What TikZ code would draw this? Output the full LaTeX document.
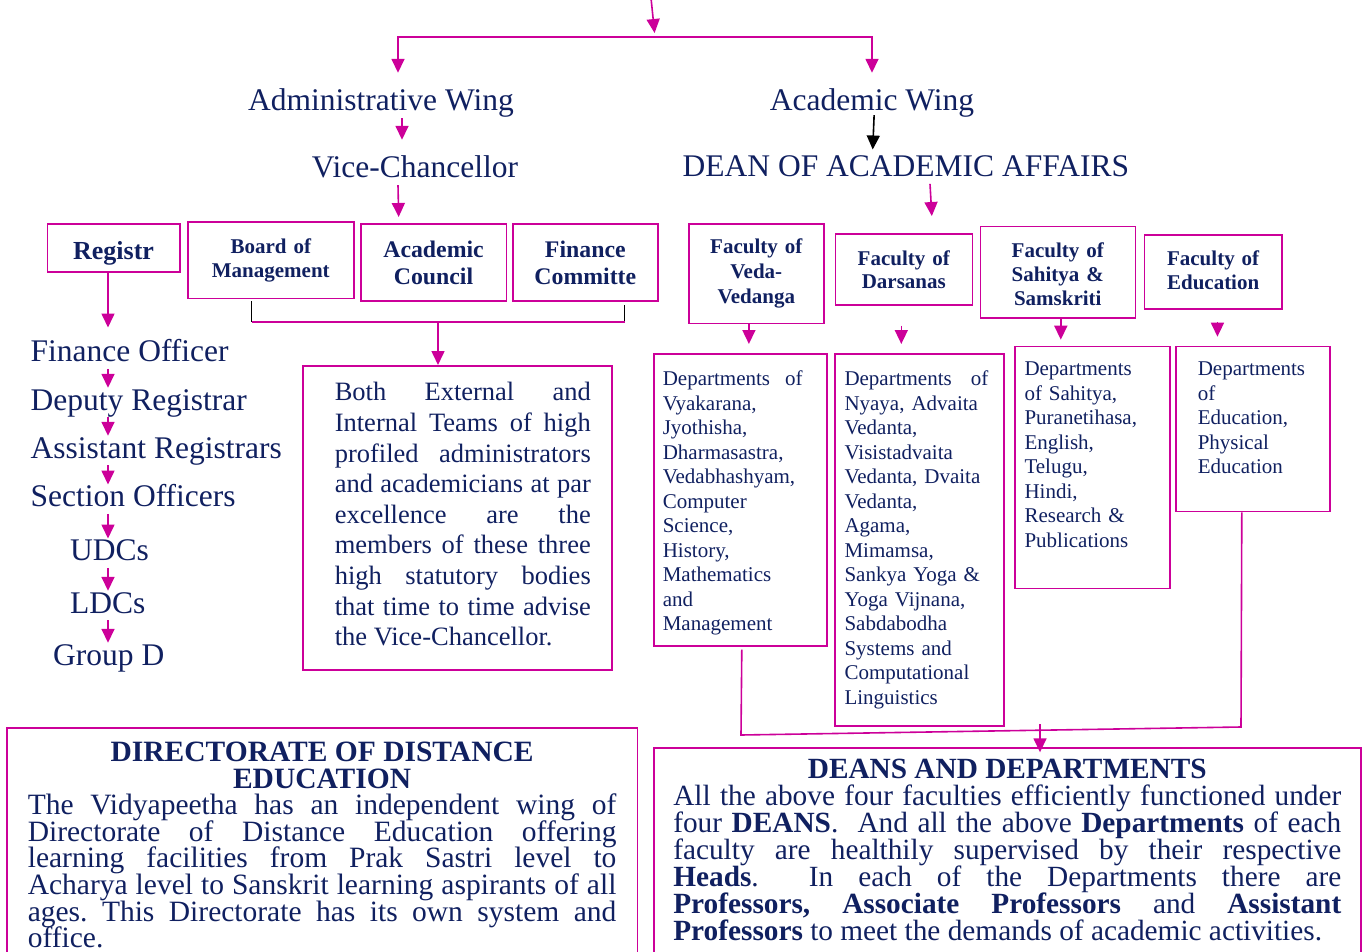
\documentclass[tikz,border=0pt]{standalone}
\usepackage{fontspec}
\setmainfont{Liberation Serif}
\usepackage{xcolor}
\usepackage{tikz}
\usetikzlibrary{arrows.meta}
\usetikzlibrary{calc}
\definecolor{inkblue}{RGB}{16,32,96}
\definecolor{wingpink}{RGB}{204,0,153}
\setlength{\normallineskiplimit}{-100pt}
\tikzset{
    link/.style={wingpink, line width=1.6pt, -{Triangle[length=14pt,width=13pt]}},
    wire/.style={wingpink, line width=1.6pt},
    tick/.style={black, line width=1.2pt},
    rank/.style={text=inkblue, inner sep=0pt, text height=22pt, text depth=7pt, font=\fontsize{31.5}{36}\selectfont},
    unit/.style={draw=wingpink, line width=1.6pt, text=inkblue, inner sep=0pt, align=center, anchor=north west},
    dept/.style={draw=wingpink, line width=1.6pt, text=inkblue, inner ysep=0pt, inner xsep=9pt, align=left, anchor=north west, font=\fontsize{21}{24.5}\selectfont},
    note/.style={draw=wingpink, line width=1.6pt, text=inkblue, inner ysep=0pt, align=justify, anchor=north west}
}

\begin{document}
\frenchspacing
\lineskiplimit=-100pt
\tolerance=10000
\hbadness=10000
\begin{tikzpicture}[x=1pt, y=-1pt]

            \useasboundingbox (0,0) rectangle (1365,952);

            % wings
            \node[rank, anchor=base] (adm) at (381,111) {Administrative Wing};
            \node[rank, anchor=base] (acw) at (872,111) {Academic Wing};
            \node[rank, anchor=base] (vc) at (415,178) {Vice-Chancellor};
            \node[rank, anchor=base] (dean) at (906,176.7) {DEAN OF ACADEMIC AFFAIRS};

            \coordinate (top) at (651,-2);
            \coordinate (split) at (655,37);
            \draw[link, shorten >=4pt] (top) -- (split);
            \draw[link, shorten >=16pt] (split) -| ([xshift=17pt]adm.north);
            \draw[link, shorten >=16pt] (split) -| (acw.north);
            \draw[link, shorten >=16pt] ([xshift=21pt]adm.south) -- ([xshift=-13pt]vc.north);
            \draw[link, black, shorten <=-3pt, shorten >=5pt] ([xshift=2pt]acw.south) -- ([xshift=-33.5pt]dean.north);

            % administrative side
            \node[unit, text width=132.5pt, text height=35.3pt, text depth=12.7pt, font=\bfseries\fontsize{26}{30}\selectfont] (reg) at (46.5,223) {Registr};
            \node[unit, text width=166pt, text height=31.7pt, text depth=45pt, font=\bfseries\fontsize{21}{24}\selectfont] (bom) at (187,221) {Board of\\Management};
            \node[unit, text width=145.5pt, text height=33.7pt, text depth=43.3pt, font=\bfseries\fontsize{23.8}{27.3}\selectfont] (ac) at (360,223) {Academic\\Council};
            \node[unit, text width=145pt, text height=33.7pt, text depth=43.3pt, font=\bfseries\fontsize{23.8}{27.3}\selectfont] (fc) at (512,223) {Finance\\Committe};

            \draw[link, shorten >=6pt] ([xshift=-17pt]vc.south) -- ([xshift=-34.75pt]ac.north);

            \node[rank, anchor=base west] (fo) at (30.5,361.7) {Finance Officer};
            \node[rank, anchor=base west] (dr) at (30.5,410) {Deputy Registrar};
            \node[rank, anchor=base west] (ar) at (30.5,458) {Assistant Registrars};
            \node[rank, anchor=base west] (so) at (30.5,506.7) {Section Officers};
            \node[rank, anchor=base west] (udc) at (70,560.7) {UDCs};
            \node[rank, anchor=base west] (ldc) at (70,613) {LDCs};
            \node[rank, anchor=base west] (grp) at (53,665) {Group D};

            \coordinate (col) at (108,0);
            \draw[link, shorten >=12pt] (col |- reg.south) -- (col |- fo.north);
            \draw[link] (col |- fo.south) -- (col |- dr.north);
            \draw[link] (col |- dr.south) -- (col |- ar.north);
            \draw[link] (col |- ar.south) -- (col |- so.north);
            \draw[link] (col |- so.south) -- (col |- udc.north);
            \draw[link] (col |- udc.south) -- (col |- ldc.north);
            \draw[link] (col |- ldc.south) -- (col |- grp.north);

            \node[note, text width=267pt, inner xsep=21pt, text height=35pt, text depth=269pt,
                font=\fontsize{26.5}{30.6}\selectfont] (both) at (302,365)
                {\leftskip=11pt\relax Both External and\linebreak
                Internal Teams of high\linebreak
                profiled administrators\linebreak
                and academicians at par\linebreak
                excellence are the\linebreak
                members of these three\linebreak
                high statutory bodies\linebreak
                that time to time advise\linebreak
                the Vice-Chancellor.\par};

            \coordinate (bl) at (251.5,322);
            \coordinate (br) at (624.5,322);
            \coordinate (bm) at ($(bl)!.5!(br)$);
            \draw[tick, shorten >=2pt] (bl) -- (bl |- bom.south);
            \draw[tick, shorten >=3pt] (br) -- (br |- fc.south);
            \draw[wire] (bl) -- (br);
            \draw[link] (bm) -- (bm |- both.north);

            % academic side
            \node[unit, text width=135pt, text height=30pt, text depth=69.7pt, font=\bfseries\fontsize{21}{24.6}\selectfont] (veda) at (688,223) {Faculty of\\Veda-\\Vedanga};
            \node[unit, text width=137pt, text height=32pt, text depth=39pt, font=\bfseries\fontsize{21}{23}\selectfont] (dar) at (834.5,233) {Faculty of\\Darsanas};
            \node[unit, text width=155pt, text height=31pt, text depth=60.6pt, font=\bfseries\fontsize{21}{24.2}\selectfont] (sah) at (979.5,225.7) {Faculty of\\Sahitya \&\\Samskriti};
            \node[unit, text width=137.3pt, text height=31pt, text depth=43.3pt, font=\bfseries\fontsize{21}{23.3}\selectfont] (edu) at (1143.7,234) {Faculty of\\Education};

            \draw[link, shorten >=17pt] ([xshift=24pt]dean.south) -- ([xshift=29pt]dar.north);

            \node[dept, text width=155pt, text height=32pt, text depth=260pt] (d1) at (653,353)
                {Departments\hspace{8pt} of\\Vyakarana,\\Jyothisha,\\Dharmasastra,\\Vedabhashyam,\\Computer\\Science,\\History,\\Mathematics\\and\\Management};
            \node[dept, text width=150pt, inner xsep=9.3pt, text height=32pt, text depth=340pt] (d2) at (834.4,353)
                {Departments\hspace{12pt} of\\Nyaya, Advaita\\Vedanta,\\Visistadvaita\\Vedanta, Dvaita\\Vedanta,\\Agama,\\Mimamsa,\\Sankya Yoga \&\\Yoga Vijnana,\\Sabdabodha\\Systems and\\Computational\\Linguistics};
            \node[dept, text width=135.6pt, inner xsep=9.7pt, text height=29.3pt, text depth=212.7pt] (d3) at (1014,345.7)
                {Departments\\of Sahitya,\\Puranetihasa,\\English,\\Telugu,\\Hindi,\\Research \&\\Publications};
            \node[dept, text width=110pt, inner xsep=22pt, text height=29.3pt, text depth=135.7pt] (d4) at (1175,345.7)
                {Departments\\of\\Education,\\Physical\\Education};

            \draw[link, shorten >=9pt] ([xshift=-7.4pt]veda.south) -- ([xshift=-7.4pt]veda.south |- d1.north);
            \draw[link, shorten <=20pt, shorten >=9pt] ([xshift=-2.5pt]dar.south) -- ([xshift=-2.5pt]dar.south |- d2.north);
            \draw[link, shorten >=6pt] ([xshift=3pt]sah.south) -- ([xshift=3pt]sah.south |- d3.north);
            \draw[link, shorten <=12pt, shorten >=9pt] ([xshift=4.3pt]edu.south) -- ([xshift=4.3pt]edu.south |- d4.north);

            % bottom boxes
            \node[note, text width=588.6pt, inner xsep=21pt, text height=33.7pt, text depth=260pt,
                font=\fontsize{29.5}{26.6}\selectfont] (dde) at (6,727)
                {{\centering\bfseries DIRECTORATE OF DISTANCE\par EDUCATION\par}
                The Vidyapeetha has an independent wing of\linebreak
                Directorate of Distance Education offering\linebreak
                learning facilities from Prak Sastri level to\linebreak
                Acharya level to Sanskrit learning aspirants of all\linebreak
                ages. This Directorate has its own system and\linebreak
                office.\par};

            \node[note, text width=668pt, inner xsep=19.5pt, text height=30pt, text depth=260pt,
                font=\fontsize{29.3}{27}\selectfont] (dad) at (653,747.3)
                {{\centering\bfseries DEANS AND DEPARTMENTS\par}
                All the above four faculties efficiently functioned under\linebreak
                four \textbf{DEANS}.\ \ And all the above \textbf{Departments} of each\linebreak
                faculty are healthily supervised by their respective\linebreak
                \textbf{Heads}.\ \ In each of the Departments there are\linebreak
                \textbf{Professors, Associate Professors} and \textbf{Assistant}\linebreak
                \textbf{Professors} to meet the demands of academic activities.\par};

            \coordinate (jl) at (741,735);
            \coordinate (jr) at (1241,727);
            \coordinate (join) at (1040,724);
            \draw[wire] ([xshift=1.5pt,yshift=-3pt]d1.south) -- (jl) -- (jr) -- ([xshift=-11pt]d4.south);
            \draw[link, shorten >=-5pt] (join) -- (join |- dad.north);

        \end{tikzpicture}
\end{document}
